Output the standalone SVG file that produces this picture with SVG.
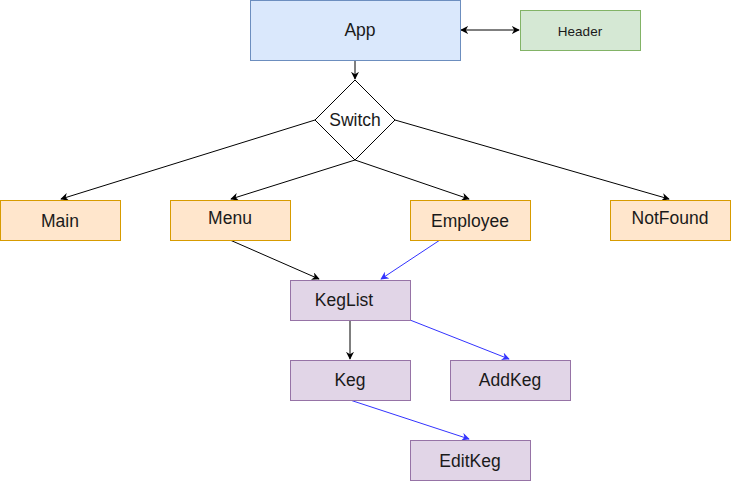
<svg xmlns="http://www.w3.org/2000/svg" width="731" height="481" viewBox="0 0 731 481">
<style>
text{font-family:"Liberation Sans",Arial,sans-serif;font-size:17.5px;fill:#1a1a1a;text-anchor:middle;dominant-baseline:central}
.blue{fill:#dae8fc;stroke:#6c8ebf}
.green{fill:#d5e8d4;stroke:#82b366}
.orange{fill:#ffe6cc;stroke:#d79b00}
.purple{fill:#e1d5e7;stroke:#9673a6}
.e{fill:none;stroke:#000;stroke-width:1}
.b{fill:none;stroke:#3333ff;stroke-width:1}
</style>
<defs>
<marker id="ak" viewBox="0 0 10 10" refX="9" refY="5" markerWidth="8" markerHeight="8" orient="auto-start-reverse" markerUnits="userSpaceOnUse"><path d="M0,0 L10,5 L0,10 L3,5 Z" fill="#000"/></marker>
<marker id="ab" viewBox="0 0 10 10" refX="9" refY="5" markerWidth="8" markerHeight="8" orient="auto" markerUnits="userSpaceOnUse"><path d="M0,0 L10,5 L0,10 L3,5 Z" fill="#3333ff"/></marker>
</defs>
<g id="connectors">
<path class="e" d="M461,30 L519,30" marker-start="url(#ak)" marker-end="url(#ak)"/>
<path class="e" d="M355,60 L355,79" marker-end="url(#ak)"/>
<path class="e" d="M315,120 L61,199" marker-end="url(#ak)"/>
<path class="e" d="M355,160 L231,199" marker-end="url(#ak)"/>
<path class="e" d="M355,160 L469,199" marker-end="url(#ak)"/>
<path class="e" d="M395,120 L669,199" marker-end="url(#ak)"/>
<path class="e" d="M230,240 L319,279" marker-end="url(#ak)"/>
<path class="b" d="M440,240 L381,279" marker-end="url(#ab)"/>
<path class="e" d="M350,320 L350,359" marker-end="url(#ak)"/>
<path class="b" d="M410,320 L509,359" marker-end="url(#ab)"/>
<path class="b" d="M350,400 L469,439" marker-end="url(#ab)"/>
</g>
<g id="app"><rect class="blue" x="250.5" y="0.5" width="210" height="60"/><text x="360" y="30">App</text></g>
<g id="header"><rect class="green" x="520.5" y="10.5" width="120" height="40"/><text x="580" y="31" style="font-size:13.5px">Header</text></g>
<g id="switch"><path d="M355,80 L395,120 L355,160 L315,120 Z" fill="#fff" stroke="#000"/><text x="355" y="120">Switch</text></g>
<g id="main"><rect class="orange" x="0.5" y="200.5" width="120" height="40"/><text x="60" y="221">Main</text></g>
<g id="menu"><rect class="orange" x="170.5" y="200.5" width="120" height="40"/><text x="230" y="218">Menu</text></g>
<g id="employee"><rect class="orange" x="410.5" y="200.5" width="120" height="40"/><text x="470" y="221">Employee</text></g>
<g id="notfound"><rect class="orange" x="610.5" y="200.5" width="120" height="40"/><text x="670" y="218">NotFound</text></g>
<g id="keglist"><rect class="purple" x="290.5" y="280.5" width="120" height="40"/><text x="344" y="300">KegList</text></g>
<g id="keg"><rect class="purple" x="290.5" y="360.5" width="120" height="40"/><text x="350" y="380">Keg</text></g>
<g id="addkeg"><rect class="purple" x="450.5" y="360.5" width="120" height="40"/><text x="510" y="380">AddKeg</text></g>
<g id="editkeg"><rect class="purple" x="410.5" y="440.5" width="120" height="40"/><text x="470" y="461">EditKeg</text></g>
</svg>
